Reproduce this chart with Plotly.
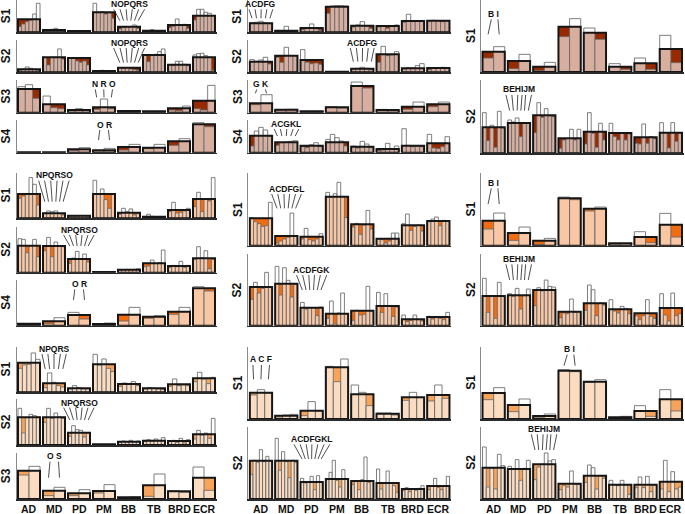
import plotly.graph_objects as go

categories = ["AD", "MD", "PD", "PM", "BB", "TB", "BRD", "ECR"]

# ---------------- Row 1 (dark) ----------------
A_S1_wide = [39, 7, 4, 60, 17, 5, 22, 50]
A_S1_bars = [[17, 25, 32, 36, 55, 87], [5, 6, 9, 12, 8, 4], [3, 3, 3, 4, 3, 3], [87, 60, 62, 55, 58, 42],
             [10, 14, 16, 17, 22, 12], [3, 4, 8, 5, 4, 3], [14, 18, 40, 20, 24, 12], [37, 69, 69, 60, 57, 50]]
A_S2_wide = [9, 45, 43, 4, 14, 52, 23, 45]
A_S2_bars = [[6, 9, 16, 12, 9, 6], [44, 22, 45, 45, 70, 40], [44, 42, 34, 30, 34, 22], [3, 4, 6, 5, 4, 3],
             [14, 12, 14, 10, 8, 6], [52, 32, 50, 54, 62, 70], [22, 20, 33, 33, 24, 20], [52, 56, 57, 50, 45, 6]]
A_S3_wide = [71, 25, 8, 16, 5, 4, 13, 36]
A_S3_bars = [[78, 84, 43], [50, 15, 12], [6, 12, 8], [10, 41, 12], [3, 3, 3], [3, 4, 3], [8, 6, 20], [12, 8, 82]]
A_S4_wide = [1, 1, 10, 7, 17, 15, 34, 85]
A_S4_bars = [[1, 1], [1, 1], [7, 15], [6, 13], [8, 25], [12, 25], [22, 42], [90, 78]]

B_S1_wide = [27, 5, 13, 77, 20, 19, 34, 35]
B_S1_bars = [[29, 30, 33, 29, 27], [3, 4, 18, 4, 3], [8, 12, 25, 10, 6], [57, 79, 80, 80, 79],
             [16, 22, 32, 18, 12], [16, 20, 12, 20, 22], [30, 54, 32, 34, 33], [34, 36, 34, 32, 34]]
B_S2_wide = [32, 50, 37, 2, 11, 54, 12, 13]
B_S2_bars = [[38, 33, 37, 45, 25], [45, 30, 75, 50, 50], [68, 30, 26, 28, 24], [1, 1, 1, 1, 1],
             [10, 12, 15, 12, 8], [30, 78, 50, 52, 62], [10, 14, 13, 20, 26], [8, 12, 14, 15, 14]]
B_S3_wide = [28, 9, 4, 16, 80, 8, 18, 25]
B_S3_bars = [[24, 54], [8, 10], [3, 4], [18, 14], [92, 74], [10, 6], [10, 32], [18, 32]]
B_S4_wide = [51, 31, 21, 31, 18, 11, 21, 28]
B_S4_bars = [[20, 65, 76, 68, 50], [22, 30, 32, 34, 36], [18, 15, 24, 30, 18], [40, 55, 45, 35, 20],
             [20, 14, 34, 26, 15], [6, 8, 28, 12, 20], [72, 22, 18, 20, 18], [55, 14, 12, 18, 48]]

C_S1_wide = [61, 33, 16, 136, 118, 16, 26, 69]
C_S1_bars = [[42, 76], [10, 53], [4, 29], [106, 160], [132, 98], [25, 8], [42, 8], [110, 28]]
C_S2_wide = [78, 91, 114, 45, 65, 61, 48, 62]
C_S2_bars = [[122, 38, 84, 18, 126, 76], [100, 94, 106, 50, 91, 91], [62, 152, 108, 134, 112, 110],
             [15, 40, 44, 72, 40, 72], [28, 122, 60, 18, 90, 40], [90, 50, 40, 62, 40, 58],
             [30, 28, 88, 30, 50, 44], [92, 62, 16, 92, 36, 60]]

# ---------------- Row 2 (orange) ----------------
D_S1_wide = [73, 15, 8, 73, 17, 5, 25, 58]
D_S1_bars = [[60, 67, 73, 122, 102, 40], [15, 22, 20, 22, 15, 10], [6, 6, 7, 8, 8, 7], [114, 74, 88, 56, 30, 72],
             [12, 30, 20, 28, 10, 14], [4, 12, 6, 4, 3, 3], [20, 48, 16, 18, 22, 30], [35, 78, 20, 58, 52, 122]]
D_S2_wide = [81, 80, 41, 2, 9, 28, 20, 43]
D_S2_bars = [[102, 100, 60, 80, 100, 48], [66, 106, 48, 92, 80, 78], [28, 44, 64, 40, 56, 32], [1, 1, 1, 1, 1, 1],
             [8, 9, 10, 9, 10, 12], [18, 20, 38, 28, 30, 68], [16, 22, 18, 34, 16, 22], [40, 78, 45, 66, 12, 40]]
D_S4_wide = [6, 13, 32, 5, 33, 27, 42, 112]
D_S4_bars = [[4, 6], [6, 24], [40, 20], [3, 8], [14, 55], [22, 30], [34, 55], [117, 104]]

E_S1_wide = [82, 29, 27, 147, 64, 21, 61, 74]
E_S1_bars = [[84, 72, 66, 58, 60, 130], [8, 14, 20, 25, 98, 28], [20, 52, 18, 14, 20, 36],
             [160, 145, 156, 190, 148, 84], [56, 67, 34, 62, 106, 50], [20, 18, 8, 14, 38, 38],
             [66, 95, 46, 58, 62, 44], [72, 80, 86, 60, 76, 74]]
E_S2_wide = [116, 126, 54, 36, 45, 59, 19, 26]
E_S2_bars = [[79, 130, 98, 112, 160, 117], [178, 92, 174, 136, 86, 124], [70, 50, 54, 54, 30, 56],
             [22, 74, 6, 38, 98, 36], [16, 46, 32, 34, 118, 44], [100, 40, 96, 58, 28, 56],
             [32, 12, 16, 32, 18, 14], [28, 20, 24, 22, 18, 40]]

F_S1_wide = [75, 38, 15, 142, 111, 7, 26, 63]
F_S1_bars = [[50, 98], [16, 56], [4, 22], [146, 138], [104, 116], [5, 6], [42, 9], [97, 26]]
F_S2_wide = [89, 91, 107, 42, 67, 49, 37, 53]
F_S2_bars = [[142, 40, 90, 22, 130, 88], [96, 88, 112, 50, 90, 110], [60, 114, 104, 137, 118, 116],
             [24, 38, 36, 80, 40, 42], [46, 122, 108, 30, 68, 62], [78, 44, 38, 58, 52, 36],
             [30, 18, 30, 78, 28, 22], [96, 32, 14, 98, 30, 36]]

# ---------------- Row 3 (light orange) ----------------
G_S1_wide = [89, 27, 12, 84, 25, 12, 24, 42]
G_S1_bars = [[72, 82, 84, 118, 99], [14, 58, 30, 20, 16], [10, 20, 14, 10, 10], [114, 82, 100, 72, 62],
             [18, 28, 24, 32, 20], [10, 14, 12, 10, 8], [18, 40, 20, 22, 20], [32, 60, 40, 26, 45]]
G_S2_wide = [83, 83, 37, 2, 10, 13, 12, 32]
G_S2_bars = [[110, 36, 82, 92, 88, 84], [68, 110, 80, 96, 84, 80], [26, 58, 46, 44, 24, 36], [1, 1, 1, 1, 1, 1],
             [8, 12, 10, 14, 10, 12], [10, 16, 12, 18, 14, 22], [10, 14, 8, 20, 6, 16], [18, 44, 30, 36, 20, 80]]
G_S3_wide = [85, 25, 17, 24, 5, 41, 23, 64]
G_S3_bars = [[72, 98], [10, 35], [10, 28], [18, 43], [4, 6], [8, 75], [25, 20], [96, 26]]

H_S1_wide = [79, 10, 25, 155, 74, 16, 65, 72]
H_S1_bars = [[72, 88, 78], [6, 12, 14], [10, 52, 24], [158, 112, 180], [102, 80, 40], [18, 18, 12],
             [56, 80, 64], [54, 102, 62]]
H_S2_wide = [115, 115, 51, 60, 54, 48, 30, 39]
H_S2_bars = [[74, 116, 110, 148, 112, 128, 114], [182, 86, 142, 112, 64, 116, 110], [62, 48, 52, 68, 28, 70, 50],
             [58, 80, 116, 56, 36, 88, 60], [44, 52, 28, 58, 126, 50, 54], [90, 30, 48, 84, 48, 40, 20],
             [26, 34, 22, 30, 26, 32, 40], [28, 40, 62, 34, 28, 40, 68]]

I_S1_wide = [78, 42, 9, 145, 112, 5, 24, 59]
I_S1_bars = [[58, 94], [22, 60], [5, 15], [148, 142], [110, 118], [4, 8], [40, 8], [88, 24]]
I_S2_wide = [94, 90, 104, 46, 70, 43, 43, 52]
I_S2_bars = [[156, 36, 92, 30, 134, 100], [98, 90, 118, 56, 92, 116], [58, 96, 104, 138, 114, 118],
             [28, 40, 36, 84, 44, 44], [50, 102, 94, 30, 70, 62], [56, 42, 40, 56, 42, 14],
             [34, 66, 34, 68, 22, 42], [30, 116, 22, 82, 30, 36]]

# ---------------- layout spec ----------------
FW, FH = 685, 514
COLS = {0: (16.5, 216.5, 6.0), 1: (248.3, 451.0, 237.5), 2: (481.0, 683.5, 471.0)}
ROW_COLORS = {1: "#982a00", 2: "#f26c12", 3: "#f7a45a"}
BW = 0.88
FONT = "Liberation Sans, Arial, sans-serif"
TEXT_PAD = 7.5      # data units between text box bottom and glyph bottom
CAT_LABEL_Y = 509   # px from top for category labels

# ann = (letters, category index, glyph bottom, line top, line bottom) in data units
SUBPLOTS = [
    dict(col=0, row=1, label="S1", base=32.3, H=96, wide=A_S1_wide, bars=A_S1_bars, ann=("NOPQRS", 4, 73, 69, 35)),
    dict(col=0, row=1, label="S2", base=72.3, H=97, wide=A_S2_wide, bars=A_S2_bars, ann=("NOPQRS", 4, 77, 73, 29)),
    dict(col=0, row=1, label="S3", base=112.7, H=97, wide=A_S3_wide, bars=A_S3_bars, ann=("N R O", 3, 76, 70, 46)),
    dict(col=0, row=1, label="S4", base=152.7, H=97, wide=A_S4_wide, bars=A_S4_bars, ann=("O R", 3, 74, 68, 38)),
    dict(col=1, row=1, label="S1", base=32.3, H=96, wide=B_S1_wide, bars=B_S1_bars, ann=("ACDFG", 0, 73, 69, 42)),
    dict(col=1, row=1, label="S2", base=72.3, H=97, wide=B_S2_wide, bars=B_S2_bars, ann=("ACDFG", 4, 77, 73, 32)),
    dict(col=1, row=1, label="S3", base=112.7, H=97, wide=B_S3_wide, bars=B_S3_bars, ann=("G K", 0, 76, 70, 58)),
    dict(col=1, row=1, label="S4", base=152.7, H=97, wide=B_S4_wide, bars=B_S4_bars, ann=("ACGKL", 1, 76, 71, 50)),
    dict(col=2, row=1, label="S1", base=72.0, H=216, wide=C_S1_wide, bars=C_S1_bars, ann=("B I", 0, 164, 158, 113)),
    dict(col=2, row=1, label="S2", base=153.3, H=220, wide=C_S2_wide, bars=C_S2_bars, ann=("BEHIJM", 1, 182, 175, 128)),
    dict(col=0, row=2, label="S1", base=218.3, H=137, wide=D_S1_wide, bars=D_S1_bars, ann=("NPQRSO", 1, 118, 113, 50)),
    dict(col=0, row=2, label="S2", base=272.7, H=137, wide=D_S2_wide, bars=D_S2_bars, ann=("NPQRSO", 2, 118, 113, 80)),
    dict(col=0, row=2, label="S4", base=325.7, H=137, wide=D_S4_wide, bars=D_S4_bars, ann=("O R", 2, 115, 109, 77)),
    dict(col=1, row=2, label="S1", base=245.7, H=217, wide=E_S1_wide, bars=E_S1_bars, ann=("ACDFGL", 1, 160, 155, 112)),
    dict(col=1, row=2, label="S2", base=325.7, H=214, wide=E_S2_wide, bars=E_S2_bars, ann=("ACDFGK", 2, 157, 152, 107)),
    dict(col=2, row=2, label="S1", base=245.7, H=217, wide=F_S1_wide, bars=F_S1_bars, ann=("B I", 0, 177, 172, 125)),
    dict(col=2, row=2, label="S2", base=325.7, H=214, wide=F_S2_wide, bars=F_S2_bars, ann=("BEHIJM", 1, 189, 184, 137)),
    dict(col=0, row=3, label="S1", base=392.3, H=137, wide=G_S1_wide, bars=G_S1_bars, ann=("NPQRS", 1, 120, 115, 70)),
    dict(col=0, row=3, label="S2", base=445.0, H=137, wide=G_S2_wide, bars=G_S2_bars, ann=("NPQRSO", 2, 116, 112, 75)),
    dict(col=0, row=3, label="S3", base=499.0, H=137, wide=G_S3_wide, bars=G_S3_bars, ann=("O S", 1, 118, 112, 64), ticks=True),
    dict(col=1, row=3, label="S1", base=419.0, H=217, wide=H_S1_wide, bars=H_S1_bars, ann=("A C F", 0, 170, 162, 119)),
    dict(col=1, row=3, label="S2", base=499.0, H=217, wide=H_S2_wide, bars=H_S2_bars, ann=("ACDFGKL", 2, 170, 164, 120), ticks=True),
    dict(col=2, row=3, label="S1", base=419.0, H=217, wide=I_S1_wide, bars=I_S1_bars, ann=("B I", 3, 198, 193, 160)),
    dict(col=2, row=3, label="S2", base=499.0, H=217, wide=I_S2_wide, bars=I_S2_bars, ann=("BEHIJM", 2, 199, 194, 147), ticks=True),
]

# Arial Bold advance widths (per 1000 em)
AW = {"A": 722, "B": 722, "C": 722, "D": 722, "E": 667, "F": 611, "G": 778, "H": 722, "I": 278,
      "J": 556, "K": 722, "L": 611, "M": 833, "N": 722, "O": 778, "P": 667, "Q": 778, "R": 722,
      "S": 667, " ": 278}
ANN_FS = 8.5


def letter_offsets(text, fs):
    widths = [AW.get(c, 650) * fs / 1000.0 for c in text]
    total = sum(widths)
    out, cum = [], 0.0
    for c, w in zip(text, widths):
        if c != " ":
            out.append(cum + w / 2 - total / 2)
        cum += w
    return out


def clamp(v):
    return min(1.0, max(0.0, v))


fig = go.Figure()
layout = dict(width=FW, height=FH, margin=dict(l=0, r=0, t=0, b=0), paper_bgcolor="white",
              plot_bgcolor="white", showlegend=False, barmode="overlay", font=dict(family=FONT))
annotations, shapes = [], []

for idx, sp in enumerate(SUBPLOTS, start=1):
    xa = "x" if idx == 1 else f"x{idx}"
    ya = "y" if idx == 1 else f"y{idx}"
    xk = "xaxis" if idx == 1 else f"xaxis{idx}"
    yk = "yaxis" if idx == 1 else f"yaxis{idx}"
    x0px, x1px, labx = COLS[sp["col"]]
    base = sp["base"]
    top = base - sp["H"] / 3.0
    pxu = (x1px - x0px) / 8.0
    color = ROW_COLORS[sp["row"]]
    wide, bars = sp["wide"], sp["bars"]
    n = len(bars[0])
    nb = BW / n
    cx = list(range(len(categories)))

    nx, ny = [], []
    for i, vals in enumerate(bars):
        for k, v in enumerate(vals):
            nx.append(i - BW / 2 + (k + 0.5) * nb)
            ny.append(v)

    fig.add_trace(go.Bar(x=cx, y=wide, width=BW, xaxis=xa, yaxis=ya, hoverinfo="skip",
                         marker=dict(color=color, line=dict(width=0))))
    fig.add_trace(go.Bar(x=nx, y=ny, width=nb, xaxis=xa, yaxis=ya, hoverinfo="skip",
                         marker=dict(color="rgba(255,255,255,0.62)",
                                     line=dict(color="rgba(105,105,105,0.85)", width=1))))
    fig.add_trace(go.Bar(x=cx, y=wide, width=BW, xaxis=xa, yaxis=ya, hoverinfo="skip",
                         marker=dict(color="rgba(0,0,0,0)", line=dict(color="#161616", width=2))))

    layout[xk] = dict(domain=[clamp(x0px / FW), clamp(x1px / FW)], anchor=ya, range=[-0.5, 7.5],
                      showline=True, linecolor="#2a2a2a", linewidth=1.5, showgrid=False,
                      zeroline=False, ticks="", showticklabels=False, fixedrange=True)
    layout[yk] = dict(domain=[clamp(1 - base / FH), clamp(1 - top / FH)], anchor=xa, range=[0, sp["H"]],
                      showline=True, linecolor="#8a8a8a", linewidth=1, showgrid=False,
                      zeroline=False, ticks="", showticklabels=False, fixedrange=True)

    # category labels under the bottom subplot of each column
    if sp.get("ticks", False):
        for i, c in enumerate(categories):
            annotations.append(dict(xref=xa, yref="paper", x=i, y=1 - CAT_LABEL_Y / FH, text=c,
                                    showarrow=False, xanchor="center", yanchor="middle",
                                    font=dict(size=10.5, color="#111", family=FONT, weight="bold")))

    # panel label
    annotations.append(dict(xref="paper", yref="paper", x=labx / FW, y=1 - (base + top) / 2 / FH,
                            text=sp["label"], showarrow=False, textangle=-90,
                            font=dict(size=12, color="#111", family=FONT, weight="bold"),
                            xanchor="center", yanchor="middle"))

    # letter group with fan lines
    letters, cat, tb, ltop, lbot = sp["ann"]
    annotations.append(dict(xref=xa, yref=ya, x=cat, y=tb - TEXT_PAD, text=letters, showarrow=False,
                            xanchor="center", yanchor="bottom", borderpad=0,
                            font=dict(size=ANN_FS, color="#111", family=FONT, weight="bold")))
    offs = letter_offsets(letters, ANN_FS)
    for k, off in enumerate(offs):
        bx = cat - BW / 2 + (k + 0.5) * nb
        shapes.append(dict(type="line", xref=xa, yref=ya, x0=cat + off / pxu, y0=ltop,
                           x1=bx, y1=lbot, line=dict(color="#222", width=0.8)))

layout["annotations"] = annotations
layout["shapes"] = shapes
fig.update_layout(**layout)
fig.write_html("out.html", config={"displayModeBar": False, "staticPlot": True},
               post_script="document.body.style.margin='0px';document.body.style.overflow='hidden';")
